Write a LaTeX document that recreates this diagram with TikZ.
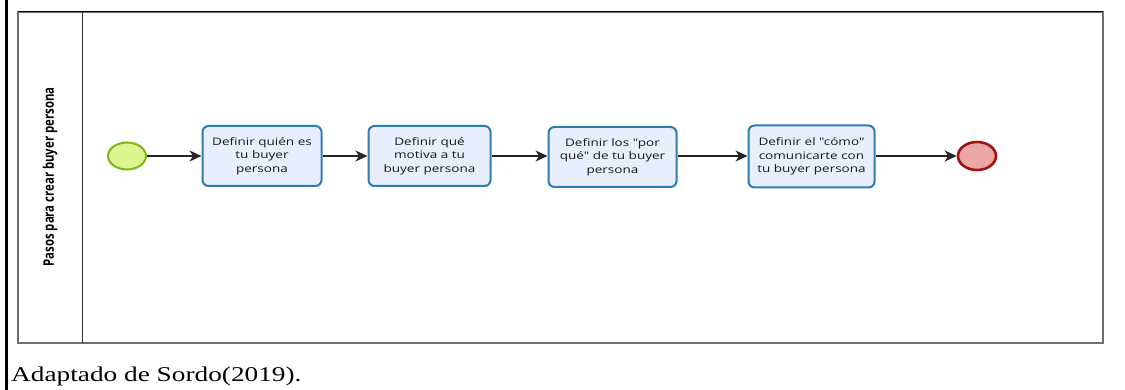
\documentclass[tikz,border=0pt]{standalone}
\usepackage{fontspec}
\usetikzlibrary{arrows.meta,shapes.geometric}
\newfontfamily\boxfont[FakeStretch=1.3]{Open Sans}
\newfontfamily\lanefont[FakeStretch=0.78]{Open Sans}
\newfontfamily\capfont[FakeStretch=1.3]{Liberation Serif}
\definecolor{taskfill}{HTML}{E8EEFB}
\definecolor{taskdraw}{HTML}{2C7DB3}
\definecolor{startfill}{HTML}{DDF58E}
\definecolor{startdraw}{HTML}{7DB51C}
\definecolor{endfill}{HTML}{EBA6A6}
\definecolor{enddraw}{HTML}{A31212}
\definecolor{poolgray}{HTML}{6E6E6E}
\tikzset{
  task/.style={draw=taskdraw, line width=2pt, fill=taskfill, rounded corners=6pt,
    minimum height=60pt, align=center, inner sep=2pt,
    font=\boxfont\fontsize{10.4}{13.5}\selectfont, text=black!90},
  startev/.style={ellipse, draw=startdraw, fill=startfill, line width=2pt,
    minimum width=38pt, minimum height=27pt, inner sep=0pt},
  endev/.style={ellipse, draw=enddraw, fill=endfill, line width=2.6pt,
    minimum width=38pt, minimum height=28pt, inner sep=0pt},
  flow/.style={draw=black!85, line width=1.2pt, -{Stealth[length=12pt,width=11pt,inset=3.5pt]}},
}
\begin{document}
\begin{tikzpicture}[x=1pt,y=-1pt]
\useasboundingbox (0,0) rectangle (1125,390);
\fill[white] (0,0) rectangle (1125,390);
% page border
\draw[line width=2.6pt, black] (6.5,0) -- (6.5,390);
% pool
\draw[poolgray, line width=1.6pt] (18,12) rectangle (1103,343);
\draw[black, line width=1pt] (18,12) -- (1103,12);
\draw[black!80, line width=1pt] (82,12) -- (82,343);
\node[rotate=90, font=\lanefont\bfseries\fontsize{14.6}{16}\selectfont] (lane) at (50,177) {Pasos para crear buyer persona};
% events and tasks
\node[startev] (s) at (127,156) {};
\node[task, minimum width=119pt] (t1) at (262,156) {Definir quién es\\tu buyer\\persona};
\node[task, minimum width=122pt] (t2) at (429.5,156) {Definir qué\\motiva a tu\\buyer persona};
\node[task, minimum width=128pt] (t3) at (612.5,157) {Definir los "por\\qué" de tu buyer\\persona};
\node[task, minimum width=126pt, minimum height=62pt] (t4) at (811.5,156.5) {Definir el "cómo"\\comunicarte con\\tu buyer persona};
\node[endev] (e) at (977,156) {};
\draw[flow] (s) -- (t1);
\draw[flow] (t1) -- (t2);
\draw[flow] (t2) -- (t3.west |- t2);
\draw[flow] (t3.east |- t2) -- (t4.west |- t2);
\draw[flow] (t4.east |- e) -- (e);
% caption
\node[anchor=base west, inner sep=0pt, font=\capfont\fontsize{21}{24}\selectfont] (cap) at (11,381) {Adaptado de Sordo(2019).};
\end{tikzpicture}
\end{document}
